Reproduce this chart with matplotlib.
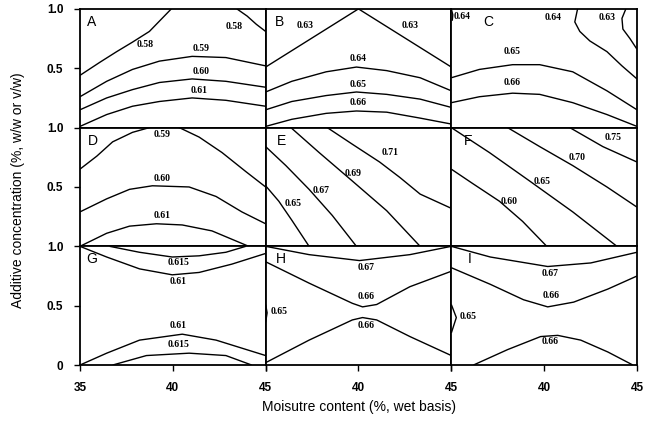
import matplotlib.pyplot as plt

# Contour lines, one (x, y) pair of lists per line
# x: moisture content (35-45 %), y: additive concentration (0-1 %)
panel_a_lines = [
    ([35, 36.07, 36.98, 37.83, 38.74, 39.92], [0.44, 0.55, 0.64, 0.72, 0.81, 1.0]),
    ([43.45, 44.0, 44.5, 45], [1.0, 0.94, 0.87, 0.81]),
    ([35, 36.44, 37.83, 39.28, 41.04, 42.86, 45], [0.26, 0.39, 0.49, 0.56, 0.60, 0.59, 0.52]),
    ([35, 36.44, 37.83, 39.28, 41.04, 42.86, 45], [0.15, 0.25, 0.32, 0.38, 0.41, 0.39, 0.34]),
    ([35, 36.44, 37.83, 39.28, 41.04, 42.86, 45], [0.01, 0.11, 0.18, 0.22, 0.25, 0.23, 0.18]),
]
panel_a_labels = [("0.58", 38.5, 0.70), ("0.58", 43.3, 0.85), ("0.59", 41.5, 0.67),
                  ("0.60", 41.5, 0.47), ("0.61", 41.4, 0.31)]

panel_b_lines = [
    ([35, 40, 45], [0.51, 1.0, 0.51]),
    ([35, 36.41, 38.26, 39.89, 41.52, 43.32, 45], [0.30, 0.39, 0.47, 0.51, 0.48, 0.42, 0.31]),
    ([35, 36.41, 38.26, 39.89, 41.52, 43.32, 45], [0.15, 0.22, 0.27, 0.30, 0.28, 0.24, 0.17]),
    ([35, 36.41, 38.26, 39.89, 41.52, 43.32, 45], [0.01, 0.07, 0.12, 0.14, 0.13, 0.08, 0.03]),
]
panel_b_labels = [("0.63", 37.1, 0.86), ("0.63", 42.8, 0.86), ("0.64", 40.0, 0.58),
                  ("0.65", 40.0, 0.36), ("0.66", 40.0, 0.21)]

panel_c_lines = [
    ([35.0, 35.08, 35.05], [1.0, 0.95, 0.90]),
    ([41.8, 41.65, 41.92, 42.46, 43.38, 44.19, 45], [1.0, 0.89, 0.81, 0.73, 0.64, 0.52, 0.41]),
    ([44.4, 44.19, 44.24, 44.62, 45], [1.0, 0.92, 0.83, 0.75, 0.66]),
    ([35, 36.51, 38.3, 39.76, 41.54, 43.38, 45], [0.42, 0.49, 0.53, 0.53, 0.47, 0.31, 0.15]),
    ([35, 36.51, 38.3, 39.76, 41.54, 43.38, 45], [0.21, 0.26, 0.29, 0.28, 0.21, 0.11, 0.01]),
]
panel_c_labels = [("0.64", 35.6, 0.94), ("0.64", 40.5, 0.93), ("0.63", 43.4, 0.93),
                  ("0.65", 38.3, 0.64), ("0.66", 38.3, 0.38)]

panel_d_lines = [
    ([35, 35.91, 36.76, 37.83, 38.74, 39.5, 40.35, 41.42, 42.65, 43.93, 45],
     [0.65, 0.76, 0.88, 0.96, 1.0, 1.03, 1.0, 0.92, 0.79, 0.63, 0.50]),
    ([35, 36.44, 37.67, 38.9, 40.88, 42.33, 43.72, 45], [0.29, 0.40, 0.48, 0.51, 0.50, 0.42, 0.29, 0.19]),
    ([35, 36.44, 37.67, 39.12, 40.51, 42.11, 44.09], [0.0, 0.11, 0.17, 0.19, 0.18, 0.13, 0.0]),
]
panel_d_labels = [("0.59", 39.4, 0.94), ("0.60", 39.4, 0.57), ("0.61", 39.4, 0.26)]

panel_e_lines = [
    ([35, 35.71, 36.41, 37.34], [0.51, 0.38, 0.22, 0.0]),
    ([35, 36.09, 37.34, 38.59, 39.89], [0.84, 0.68, 0.48, 0.26, 0.0]),
    ([36.36, 37.88, 39.67, 41.52, 43.32], [1.0, 0.79, 0.55, 0.30, 0.0]),
    ([38.32, 39.67, 41.14, 42.23, 43.32, 45], [1.0, 0.86, 0.71, 0.58, 0.44, 0.32]),
]
panel_e_labels = [("0.71", 41.7, 0.79), ("0.69", 39.7, 0.61), ("0.67", 38.0, 0.47),
                  ("0.65", 36.5, 0.36)]

panel_f_lines = [
    ([35, 36.14, 37.59, 38.84, 40.14], [0.65, 0.53, 0.38, 0.21, 0.0]),
    ([35, 37.05, 39.22, 41.54, 43.92], [1.0, 0.79, 0.55, 0.29, 0.0]),
    ([38.03, 39.76, 41.54, 43.38, 45], [1.0, 0.84, 0.68, 0.50, 0.33]),
    ([41.38, 43.16, 45], [1.0, 0.84, 0.71]),
]
panel_f_labels = [("0.75", 43.7, 0.92), ("0.70", 41.8, 0.75), ("0.65", 39.9, 0.55),
                  ("0.60", 38.1, 0.38)]

panel_g_lines = [
    ([36.6, 38.2, 39.97, 41.42, 42.86, 43.93], [1.0, 0.95, 0.91, 0.92, 0.95, 1.0]),
    ([35, 36.44, 38.21, 39.97, 41.42, 43.18, 45], [1.0, 0.91, 0.81, 0.76, 0.78, 0.85, 0.94]),
    ([35, 36.44, 38.21, 40.51, 42.33, 45], [0.0, 0.10, 0.21, 0.26, 0.21, 0.08]),
    ([36.76, 38.58, 40.88, 42.86, 44.25], [0.0, 0.08, 0.10, 0.08, 0.0]),
]
panel_g_labels = [("0.615", 40.3, 0.86), ("0.61", 40.3, 0.70), ("0.61", 40.3, 0.33),
                  ("0.615", 40.3, 0.17)]

panel_h_lines = [
    ([35, 37.34, 40.05, 42.77, 45], [1.0, 0.93, 0.88, 0.93, 1.0]),
    ([35, 37.34, 39.67, 40.22, 40.98, 42.77, 45], [0.87, 0.69, 0.52, 0.49, 0.51, 0.66, 0.79]),
    ([35, 37.34, 39.67, 40.22, 40.98, 42.77, 45], [0.02, 0.21, 0.38, 0.40, 0.38, 0.24, 0.08]),
    ([35.0, 35.08, 35.0], [0.51, 0.44, 0.36]),
]
panel_h_labels = [("0.67", 40.4, 0.82), ("0.66", 40.4, 0.58), ("0.66", 40.4, 0.33),
                  ("0.65", 35.75, 0.45)]

panel_i_lines = [
    ([35, 37.1, 40.19, 42.51, 45], [1.0, 0.91, 0.83, 0.86, 0.95]),
    ([35, 37.1, 38.89, 40.19, 41.59, 43.43, 45], [0.82, 0.68, 0.55, 0.49, 0.53, 0.64, 0.75]),
    ([36.19, 38.03, 39.81, 40.73, 41.97, 43.43, 44.78], [0.0, 0.13, 0.24, 0.25, 0.21, 0.11, 0.0]),
    ([35, 35.27, 35], [0.51, 0.40, 0.27]),
]
panel_i_labels = [("0.67", 40.3, 0.77), ("0.66", 40.4, 0.59), ("0.66", 40.3, 0.20),
                  ("0.65", 35.9, 0.41)]

panel_names = ["A", "B", "C", "D", "E", "F", "G", "H", "I"]
panel_name_x = [35.65, 35.75, 37.0, 35.7, 35.85, 35.9, 35.65, 35.8, 36.0]
panel_lines = [panel_a_lines, panel_b_lines, panel_c_lines, panel_d_lines, panel_e_lines,
               panel_f_lines, panel_g_lines, panel_h_lines, panel_i_lines]
panel_labels = [panel_a_labels, panel_b_labels, panel_c_labels, panel_d_labels, panel_e_labels,
                panel_f_labels, panel_g_labels, panel_h_labels, panel_i_labels]

plt.rcParams['font.family'] = ['Liberation Sans', 'DejaVu Sans']

fig, axes = plt.subplots(3, 3, figsize=(6.5, 4.23), dpi=100)
fig.subplots_adjust(left=0.123, right=0.98, bottom=0.137, top=0.979, wspace=0, hspace=0)

for k, ax in enumerate(axes.flat):
    row, col = divmod(k, 3)
    for xs, ys in panel_lines[k]:
        ax.plot(xs, ys, color='black', lw=1.0, solid_capstyle='butt')
    for txt, lx, ly in panel_labels[k]:
        ax.text(lx, ly, txt, ha='center', va='center', fontsize=7,
                family='Liberation Serif', weight='bold')
    ax.text(panel_name_x[k], 0.89, panel_names[k], ha='center', va='center', fontsize=10)
    ax.set_xlim(35, 45)
    ax.set_ylim(0, 1)
    for sp in ax.spines.values():
        sp.set_linewidth(1.3)

    # y ticks only on the left column
    if col == 0:
        if row == 2:
            ax.set_yticks([0, 0.5, 1.0])
            ax.set_yticklabels(['0', '0.5', '1.0'])
        else:
            ax.set_yticks([0.5, 1.0])
            ax.set_yticklabels(['0.5', '1.0'])
        ax.tick_params(axis='y', direction='out', length=4, width=1, pad=8,
                       labelsize=8.5)
        for lab in ax.get_yticklabels():
            lab.set_fontweight('bold')
    else:
        ax.set_yticks([])

    # x ticks only on the bottom row
    if row == 2:
        ax.set_xticks([35, 40, 45])
        if col == 0:
            ax.set_xticklabels(['35', '40', '45'])
        else:
            ax.set_xticklabels(['', '40', '45'])
        ax.tick_params(axis='x', direction='out', length=4, width=1, pad=8,
                       labelsize=8.5)
        for lab in ax.get_xticklabels():
            lab.set_fontweight('bold')
    else:
        ax.set_xticks([])

fig.text(0.028, 0.55, 'Additive concentration (%, w/w or v/w)', rotation=90,
         ha='center', va='center', fontsize=10)
fig.text(0.553, 0.037, 'Moisutre content (%, wet basis)', ha='center', va='center',
         fontsize=10)

plt.savefig('out.png', dpi=100)
